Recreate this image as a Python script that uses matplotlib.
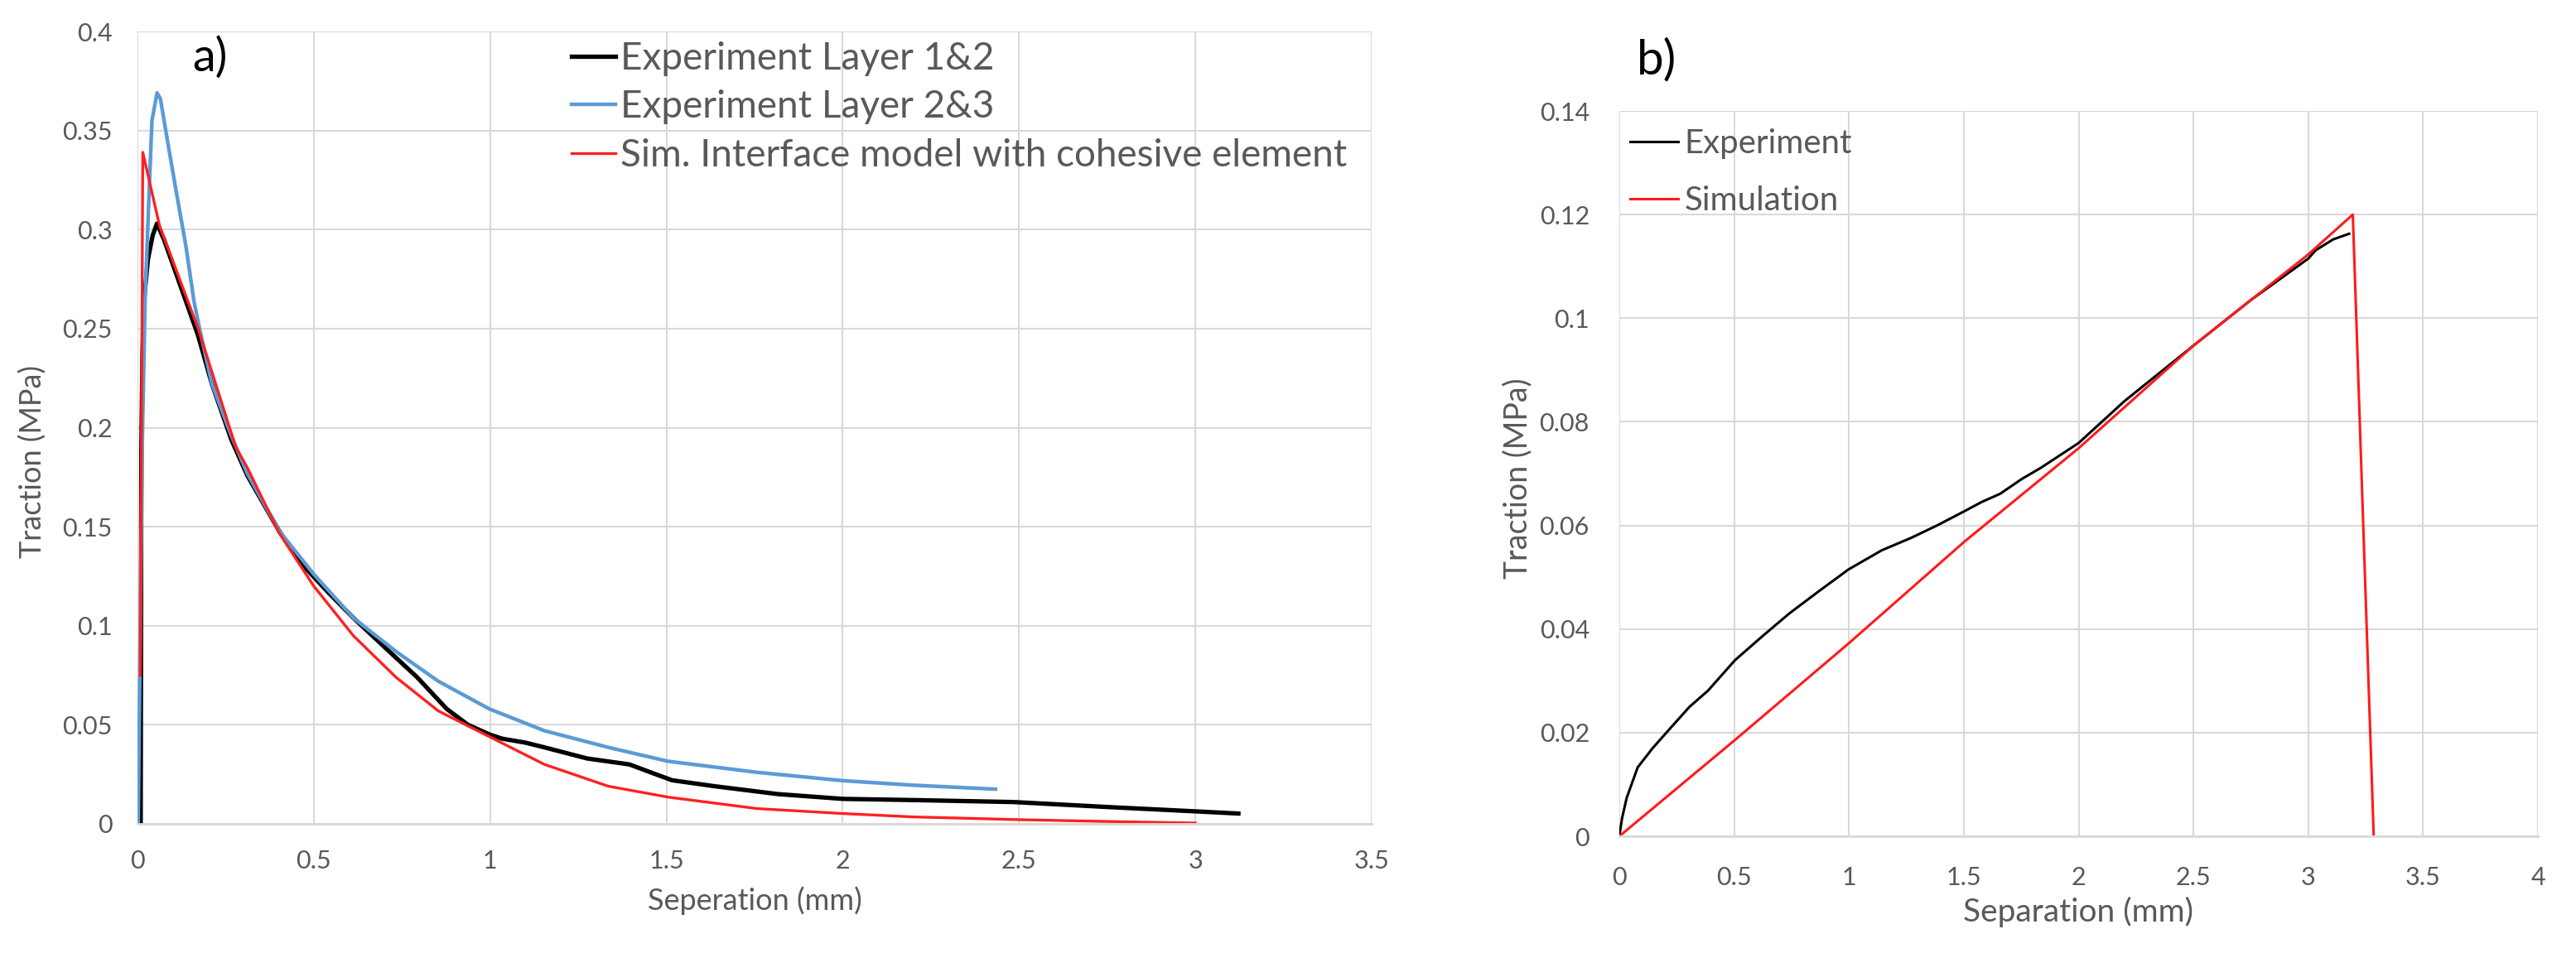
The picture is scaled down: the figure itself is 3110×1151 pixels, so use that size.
import matplotlib
matplotlib.use("Agg")
import matplotlib.pyplot as plt

# ---------------- data: panel a ----------------
a_black_x = [0.009, 0.011, 0.014, 0.0185, 0.0296, 0.043, 0.055, 0.075, 0.095, 0.137, 0.171,
             0.211, 0.266, 0.311, 0.401, 0.467, 0.54, 0.612, 0.708, 0.793, 0.877, 0.937,
             1.0, 1.034, 1.1, 1.154, 1.275, 1.395, 1.455, 1.516, 1.636, 1.817, 2.0, 2.2,
             2.485, 2.75, 3.0, 3.122]
a_black_y = [0.0, 0.19, 0.236, 0.264, 0.285, 0.297, 0.303, 0.295, 0.285, 0.264, 0.247,
             0.222, 0.194, 0.176, 0.148, 0.131, 0.117, 0.104, 0.088, 0.074, 0.058, 0.050,
             0.045, 0.043, 0.041, 0.0386, 0.033, 0.030, 0.026, 0.022, 0.019, 0.015, 0.0126,
             0.012, 0.011, 0.0085, 0.0063, 0.0052]

a_blue_x = [0.002, 0.008, 0.0137, 0.0215, 0.0332, 0.041, 0.0555, 0.065, 0.082, 0.109, 0.137,
            0.160, 0.176, 0.211, 0.266, 0.311, 0.401, 0.5, 0.612, 0.733, 0.853, 0.998,
            1.154, 1.335, 1.504, 1.757, 2.0, 2.2, 2.433]
a_blue_y = [0.0, 0.10, 0.194, 0.264, 0.320, 0.355, 0.369, 0.366, 0.348, 0.320, 0.292,
            0.264, 0.250, 0.222, 0.196, 0.177, 0.148, 0.126, 0.104, 0.087, 0.072, 0.058,
            0.047, 0.0386, 0.0316, 0.026, 0.0218, 0.0195, 0.0175]

a_red_x = [0.008, 0.015, 0.0625, 0.172, 0.279, 0.311, 0.401, 0.5, 0.612, 0.733, 0.853,
           0.998, 1.154, 1.335, 1.504, 1.757, 2.0, 2.2, 2.5, 2.75, 3.0]
a_red_y = [0.075, 0.339, 0.302, 0.250, 0.190, 0.180, 0.147, 0.120, 0.095, 0.074, 0.057,
           0.044, 0.030, 0.019, 0.0135, 0.0077, 0.0052, 0.0035, 0.0021, 0.0012, 0.0004]

a_labels = ["Experiment Layer 1&2", "Experiment Layer 2&3",
            "Sim. Interface model with cohesive element"]
a_xticks = [0, 0.5, 1, 1.5, 2, 2.5, 3, 3.5]
a_xticklabels = ["0", "0.5", "1", "1.5", "2", "2.5", "3", "3.5"]
a_yticks = [0, 0.05, 0.1, 0.15, 0.2, 0.25, 0.3, 0.35, 0.4]
a_yticklabels = ["0", "0.05", "0.1", "0.15", "0.2", "0.25", "0.3", "0.35", "0.4"]

# ---------------- data: panel b ----------------
b_exp_x = [0.0, 0.012, 0.032, 0.080, 0.145, 0.225, 0.306, 0.386, 0.504, 0.628, 0.740, 0.869,
           0.998, 1.143, 1.271, 1.384, 1.501, 1.577, 1.658, 1.754, 1.835, 2.0, 2.2,
           2.5, 2.75, 3.0, 3.032, 3.108, 3.178]
b_exp_y = [0.0, 0.0035, 0.0074, 0.0133, 0.0170, 0.0210, 0.0250, 0.0281, 0.0340, 0.0388,
           0.0430, 0.0473, 0.0515, 0.0552, 0.0576, 0.0600, 0.0627, 0.0645, 0.0661, 0.0690,
           0.0711, 0.0759, 0.0840, 0.0947, 0.1035, 0.1115, 0.1131, 0.1152, 0.1163]

b_sim_x = [0.0, 0.504, 0.998, 1.501, 2.0, 2.5, 3.0, 3.194, 3.285]
b_sim_y = [0.0, 0.0186, 0.0372, 0.0568, 0.0749, 0.0947, 0.1123, 0.1200, 0.0]

b_labels = ["Experiment", "Simulation"]
b_xticks = [0, 0.5, 1, 1.5, 2, 2.5, 3, 3.5, 4]
b_xticklabels = ["0", "0.5", "1", "1.5", "2", "2.5", "3", "3.5", "4"]
b_yticks = [0, 0.02, 0.04, 0.06, 0.08, 0.1, 0.12, 0.14]
b_yticklabels = ["0", "0.02", "0.04", "0.06", "0.08", "0.1", "0.12", "0.14"]

# ---------------- style ----------------
plt.rcParams['font.family'] = ['Lato', 'DejaVu Sans']
TXT = '#595959'
GRID = '#d9d9d9'
W, H = 3110, 1151
fig = plt.figure(figsize=(W / 100, H / 100), dpi=100)


def px_axes(l, t, r, b):
    return fig.add_axes([l / W, 1 - b / H, (r - l) / W, (b - t) / H])


def style(ax, pad):
    for s in ['left', 'right', 'top']:
        ax.spines[s].set_visible(False)
    ax.spines['bottom'].set_color(GRID)
    ax.spines['bottom'].set_linewidth(2.0)
    ax.grid(True, color=GRID, linewidth=1.5)
    ax.set_axisbelow(True)
    ax.tick_params(length=0, colors=TXT, pad=pad)


# ---------------- panel a ----------------
axa = px_axes(166, 38, 1656, 995)
axa.plot(a_black_x, a_black_y, color='black', lw=3.8, label=a_labels[0])
axa.plot(a_blue_x, a_blue_y, color='#5b9bd5', lw=3.2, label=a_labels[1])
axa.plot(a_red_x, a_red_y, color='#ff2020', lw=2.4, label=a_labels[2])
axa.set_xlim(0, 3.5)
axa.set_ylim(0, 0.4)
axa.set_xticks(a_xticks)
axa.set_xticklabels(a_xticklabels, fontsize=22)
axa.set_yticks(a_yticks)
axa.set_yticklabels(a_yticklabels, fontsize=22)
style(axa, 22)
fig.text(40 / W, 1 - 558 / H, "Traction (MPa)", rotation=90, ha='center', va='center',
         fontsize=26, color=TXT)
fig.text(911 / W, 1 - 1088 / H, "Seperation (mm)", ha='center', va='center',
         fontsize=26, color=TXT)
fig.text(253 / W, 1 - 70 / H, "a)", ha='center', va='center', fontsize=40, color='black')
lega = axa.legend(loc='upper left', bbox_to_anchor=(690 / W, 1 - 50 / H),
                  bbox_transform=fig.transFigure, frameon=False, fontsize=33,
                  handlelength=1.15, handletextpad=0.14, labelspacing=0.36,
                  borderpad=0, borderaxespad=0)
for t in lega.get_texts():
    t.set_color(TXT)

# ---------------- panel b ----------------
axb = px_axes(1955, 134, 3064, 1010)
axb.plot(b_exp_x, b_exp_y, color='black', lw=2.2, label=b_labels[0])
axb.plot(b_sim_x, b_sim_y, color='#ff1a1a', lw=2.2, label=b_labels[1])
axb.set_xlim(0, 4)
axb.set_ylim(0, 0.14)
axb.set_xticks(b_xticks)
axb.set_xticklabels(b_xticklabels, fontsize=22)
axb.set_yticks(b_yticks)
axb.set_yticklabels(b_yticklabels, fontsize=22)
style(axb, 26)
fig.text(1832 / W, 1 - 578 / H, "Traction (MPa)", rotation=90, ha='center', va='center',
         fontsize=27, color=TXT)
fig.text(2509 / W, 1 - 1101 / H, "Separation (mm)", ha='center', va='center',
         fontsize=28, color=TXT)
fig.text(2000 / W, 1 - 73 / H, "b)", ha='center', va='center', fontsize=42, color='black')
legb = axb.legend(loc='upper left', bbox_to_anchor=(1968 / W, 1 - 155 / H),
                  bbox_transform=fig.transFigure, frameon=False, fontsize=29,
                  handlelength=1.43, handletextpad=0.2, labelspacing=0.8,
                  borderpad=0, borderaxespad=0)
for t in legb.get_texts():
    t.set_color(TXT)

fig.savefig("out.png", dpi=100, facecolor='white')
